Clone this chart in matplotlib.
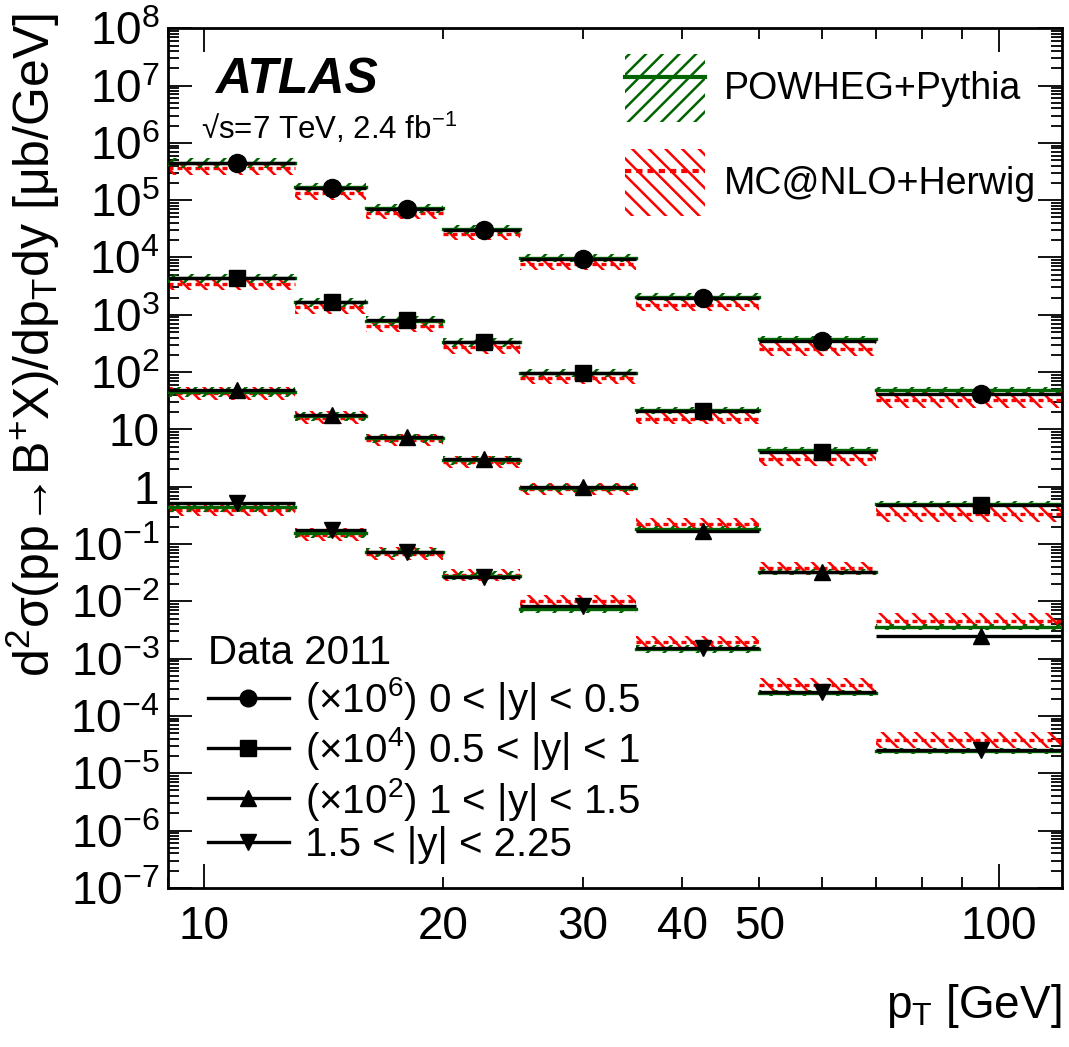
import numpy as np
import matplotlib.pyplot as plt
from matplotlib.lines import Line2D
from matplotlib.patches import Patch
from matplotlib.ticker import FixedLocator, FuncFormatter, LogLocator, NullFormatter

plt.rcParams["font.family"] = ["Liberation Sans", "DejaVu Sans"]
plt.rcParams["mathtext.fontset"] = "custom"
plt.rcParams["mathtext.rm"] = "Liberation Sans"
plt.rcParams["mathtext.it"] = "Liberation Sans:italic"
plt.rcParams["mathtext.bf"] = "Liberation Sans:bold"
plt.rcParams["hatch.linewidth"] = 1.8

# pT bins [GeV] and mean pT of the data points
bin_edges = [9, 13, 16, 20, 25, 35, 50, 70, 120]
pt_mean = [11.0, 14.5, 18.0, 22.5, 30.0, 42.5, 60.0, 95.0]

row_labels = [
    r"($\times$10$^{6}$) 0 < |y| < 0.5",
    r"($\times$10$^{4}$) 0.5 < |y| < 1",
    r"($\times$10$^{2}$) 1 < |y| < 1.5",
    "1.5 < |y| < 2.25",
]
row_markers = ["o", "s", "^", "v"]

# data (already multiplied by the scale factor shown in the legend)
data_y1 = [4.4e5, 1.6e5, 7.0e4, 3.0e4, 9.35e3, 1.93e3, 347, 41]
data_y2 = [4.36e3, 1.68e3, 797, 333, 97, 20.9, 4.07, 0.472]
data_y3 = [48.5, 17.8, 7.35, 3.03, 0.97, 0.168, 0.0328, 2.48e-3]
data_y4 = [0.51, 0.173, 0.0715, 0.0269, 8.28e-3, 1.51e-3, 2.65e-4, 2.55e-5]

# POWHEG+Pythia central values
powheg_y1 = [4.4e5, 1.69e5, 7.24e4, 3.12e4, 9.7e3, 2.03e3, 376, 48.5]
powheg_y2 = [4.3e3, 1.65e3, 780, 330, 95, 21.5, 4.3, 0.5]
powheg_y3 = [45, 17, 7.0, 2.9, 0.95, 0.18, 0.0324, 3.56e-3]
powheg_y4 = [0.44, 0.155, 0.072, 0.028, 7.3e-3, 1.47e-3, 2.5e-4, 2.45e-5]

# MC@NLO+Herwig central values
mcnlo_y1 = [3.61e5, 1.32e5, 5.93e4, 2.55e4, 7.65e3, 1.47e3, 252, 32.5]
mcnlo_y2 = [3.5e3, 1.35e3, 640, 270, 78, 15.5, 3.0, 0.333]
mcnlo_y3 = [43, 16, 6.6, 2.7, 0.9, 0.223, 0.038, 4.53e-3]
mcnlo_y4 = [0.40, 0.145, 0.068, 0.029, 0.0101, 1.95e-3, 3.47e-4, 3.81e-5]

# relative theory uncertainties per bin
powheg_err = [0.22, 0.2, 0.2, 0.2, 0.18, 0.16, 0.14, 0.14]
mcnlo_err = [0.3, 0.3, 0.28, 0.28, 0.27, 0.27, 0.3, 0.38]

data_rows = [data_y1, data_y2, data_y3, data_y4]
powheg_rows = [powheg_y1, powheg_y2, powheg_y3, powheg_y4]
mcnlo_rows = [mcnlo_y1, mcnlo_y2, mcnlo_y3, mcnlo_y4]

GREEN = "#006400"
RED = "#ff0000"
RED_DASH = (0, (1.5, 1.2))


def draw_band(ax, centers, errs, color, hatch, ls, z):
    for i in range(len(centers)):
        lo, hi = bin_edges[i], bin_edges[i + 1]
        f = 1 + errs[i]
        ax.fill_between([lo, hi], [centers[i] / f] * 2, [centers[i] * f] * 2,
                        facecolor="none", edgecolor=color, hatch=hatch,
                        linewidth=0, zorder=z)
        ax.plot([lo, hi], [centers[i]] * 2, color=color, lw=2.4, ls=ls,
                zorder=z + 0.5)


def ylab(v, pos):
    e = int(round(np.log10(v)))
    if e == 0:
        return "1"
    if e == 1:
        return "10"
    return r"10$^{%d}$" % e


def main():
    fig = plt.figure(figsize=(10.69, 10.47), dpi=100)
    ax = fig.add_axes([0.157, 0.152, 0.836, 0.821])

    edges = np.array(bin_edges, dtype=float)
    x = np.array(pt_mean)
    xerr = [x - edges[:-1], edges[1:] - x]

    for r in range(4):
        draw_band(ax, mcnlo_rows[r], mcnlo_err, RED, "\\\\", RED_DASH, 2)
        draw_band(ax, powheg_rows[r], powheg_err, GREEN, "//", "-", 3)
        ax.errorbar(x, data_rows[r], xerr=xerr, fmt=row_markers[r], color="k",
                    ms=13 if r == 0 else 12, elinewidth=2.4, capsize=0, zorder=5)

    ax.set_xscale("log")
    ax.set_yscale("log")
    ax.set_xlim(9, 120)
    ax.set_ylim(1e-7, 1e8)

    ax.xaxis.set_major_locator(FixedLocator([10, 100]))
    ax.xaxis.set_minor_locator(FixedLocator([9, 20, 30, 40, 50, 60, 70, 80, 90]))
    ax.xaxis.set_major_formatter(FuncFormatter(lambda v, p: "%d" % v))
    ax.xaxis.set_minor_formatter(
        FuncFormatter(lambda v, p: "%d" % v if v in (20, 30, 40, 50) else ""))
    ax.yaxis.set_major_locator(LogLocator(base=10, numticks=30))
    ax.yaxis.set_minor_locator(LogLocator(base=10, subs=np.arange(2, 10), numticks=300))
    ax.yaxis.set_major_formatter(FuncFormatter(ylab))
    ax.yaxis.set_minor_formatter(NullFormatter())

    ax.tick_params(which="both", direction="in", top=True, right=True,
                   labelsize=33, width=1.3)
    ax.tick_params(which="major", length=17)
    ax.tick_params(which="minor", length=8)
    ax.tick_params(axis="x", which="both", pad=12)
    ax.tick_params(axis="y", which="both", pad=6)
    for s in ax.spines.values():
        s.set_linewidth(2)

    ax.set_xlabel(r"p$_{\mathrm{T}}$ [GeV]", fontsize=33, loc="right")
    ax.xaxis.set_label_coords(1.0, -0.11)
    ax.set_ylabel(r"d$^{2}$σ(pp→B$^{+}$X)/dp$_{\mathrm{T}}$dy [μb/GeV]",
                  fontsize=36, loc="top")
    ax.yaxis.set_label_coords(-0.118, 1.018)

    ax.text(0.053, 0.94, "ATLAS", transform=ax.transAxes, fontsize=36,
            fontweight="bold", fontstyle="italic", va="center")
    ax.text(0.037, 0.883, r"√s=7 TeV, 2.4 fb$^{-1}$",
            transform=ax.transAxes, fontsize=22.5, va="center")

    # theory legend (top right)
    h_pow = (Patch(facecolor="none", edgecolor=GREEN, hatch="//", linewidth=0),
             Line2D([], [], color=GREEN, lw=3))
    h_mc = (Patch(facecolor="none", edgecolor=RED, hatch="\\\\", linewidth=0),
            Line2D([], [], color=RED, lw=3, ls=RED_DASH))
    leg1 = ax.legend([h_pow, h_mc], ["POWHEG+Pythia", "MC@NLO+Herwig"],
                     loc="upper left", bbox_to_anchor=(0.512, 0.970),
                     frameon=False, fontsize=27, borderpad=0, borderaxespad=0,
                     handlelength=2.13, handleheight=2.4, labelspacing=0.72,
                     handletextpad=0.5)
    ax.add_artist(leg1)

    # data legend (bottom left)
    h_data = [Line2D([], [], color="k", lw=2.4, marker=m, ms=12)
              for m in row_markers]
    ax.legend(h_data, row_labels, loc="lower left", bbox_to_anchor=(0.045, 0.028),
              frameon=False, fontsize=29, borderpad=0, borderaxespad=0,
              handlelength=2.0, labelspacing=0.08, handletextpad=0.4,
              title="Data 2011", title_fontsize=29, alignment="left")

    fig.savefig("out.png", dpi=100)
    plt.close(fig)


if __name__ == "__main__":
    main()
